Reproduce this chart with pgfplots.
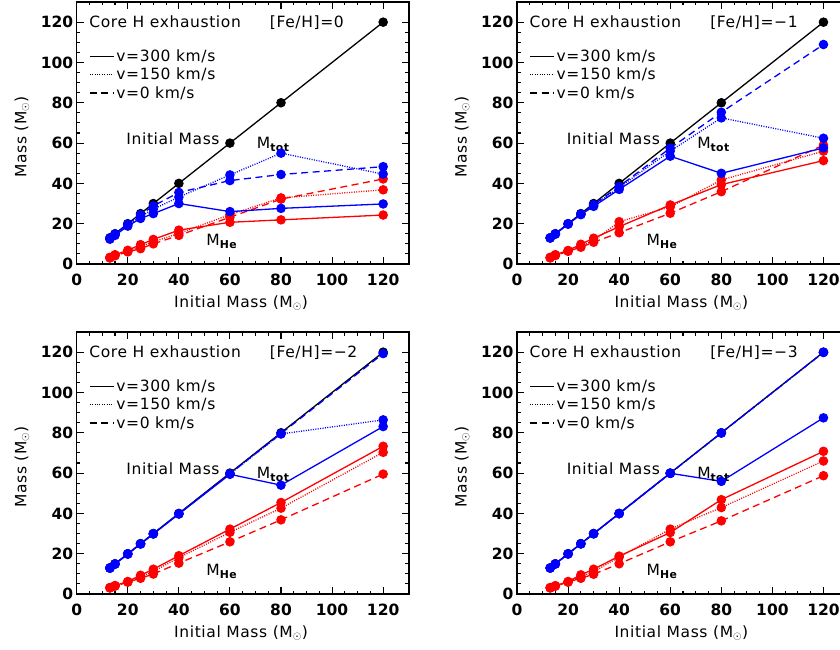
\documentclass[border=0pt]{standalone}
\usepackage{pgfplots}
\pgfplotsset{compat=1.18}
\usepackage{pgfplotstable}
\usepackage{fontspec}
\setmainfont{DejaVu Sans}[LetterSpace=4]
\newfontfamily\tkfam{DejaVu Sans}

\newcommand\lab{\fontsize{15.5}{18}\selectfont}
\newcommand\tkf{\tkfam\fontsize{15.5}{17}\selectfont\bfseries}

% m: initial mass; bs/bo/bd: total mass (v=300/150/0); rs/ro/rd: He core mass (v=300/150/0)
\pgfplotstableread{
m   bs    bo    bd     rs    ro    rd
13  12.3  12.6  12.9   3.3   3.1   3.0
15  14.2  14.6  14.9   4.6   4.3   4.1
20  18.8  19.4  19.8   6.8   6.4   6.0
25  22.6  23.6  24.5   9.6   8.6   7.6
30  25.0  27.2  28.8   12.2  11.0  10.0
40  30.0  33.2  35.5   16.8  15.2  14.2
60  26.0  44.2  41.4   20.7  24.5  23.2
80  27.6  55.0  44.4   21.9  32.8  32.2
120 29.8  44.6  48.3   24.3  36.8  42.2
}\tabA
\pgfplotstableread{
m   bs    bo    bd     rs    ro    rd
13  12.9  13.0  13.0   3.3   3.2   3.0
15  14.8  14.9  15.0   4.6   4.4   4.2
20  19.8  19.9  19.9   6.7   6.5   6.3
25  24.5  24.7  24.8   9.8   9.0   8.3
30  28.6  29.0  29.5   12.8  11.5  10.8
40  37.0  38.0  38.5   18.5  21.0  15.5
60  53.5  56.0  57.5   29.3  28.3  25.2
80  45.0  72.5  75.3   39.4  41.7  35.9
120 57.6  62.4  108.9  51.3  56.0  59.0
}\tabB
\pgfplotstableread{
m   bs    bo    bd     rs    ro    rd
13  12.8  12.9  12.9   3.2   3.1   3.0
15  14.8  14.9  14.9   4.2   4.0   3.9
20  19.8  19.9  19.9   6.2   6.0   5.9
25  24.8  24.9  24.9   9.3   8.5   7.8
30  29.8  29.9  29.9   12.3  11.2  9.9
40  39.7  39.8  39.8   19.0  18.0  15.3
60  59.4  59.6  59.7   32.2  30.6  25.9
80  54.0  79.4  79.6   45.4  42.6  36.8
120 83.1  86.4  119.3  73.3  70.3  59.5
}\tabC
\pgfplotstableread{
m   bs    bo    bd     rs    ro    rd
13  12.9  12.9  12.9   3.2   3.1   3.0
15  14.9  14.9  14.9   4.1   4.0   3.9
20  19.9  19.9  19.9   6.2   6.0   5.9
25  24.9  24.9  24.9   9.5   8.6   7.8
30  29.9  29.9  29.9   12.3  11.0  9.8
40  39.9  39.9  39.9   18.8  18.3  15.0
60  59.9  59.9  59.9   30.5  32.2  25.9
80  55.9  79.9  79.9   46.8  42.9  36.3
120 87.4  119.9 119.9  70.8  66.0  58.7
}\tabD

\pgfplotsset{
 panel/.style={
   scale only axis, width=332pt, height=262pt, anchor=south west,
   xmin=0, xmax=130, ymin=0, ymax=130,
   xtick={0,20,...,120}, ytick={0,20,...,120},
   minor x tick num=3, minor y tick num=3,
   tick align=inside, major tick length=7pt, minor tick length=3.5pt,
   every tick/.style={black, line width=1.1pt},
   axis line style={line width=1.6pt},
   /pgf/number format/assume math mode=true,
   ticklabel style={font=\tkf},
   xticklabel style={yshift=-6pt},
   xlabel={Initial Mass (M$_\odot$)}, ylabel={Mass (M$_\odot$)},
   label style={font=\lab},
   xlabel style={at={(axis description cs:0.495,-0.149)}, anchor=center},
   ylabel style={at={(axis description cs:-0.165,0.485)}, anchor=center},
   legend style={draw=none, fill=none, at={(axis description cs:0.037,0.826)},
     anchor=north west, font=\lab, inner sep=0pt, row sep=1pt, cells={anchor=west}},
   legend image code/.code={\draw[#1, line width=1.2pt] (0pt,0pt) -- (24pt,0pt);},
   clip=false,
 },
 dotst/.style={dash pattern=on 1pt off 1.4pt},
 dashst/.style={dash pattern=on 7pt off 4.5pt},
 pl/.style={line width=1.3pt, mark=*, mark size=4.1pt, mark options={solid, draw=none, fill=#1}, #1, forget plot},
}

\newcommand\drawpanel[3]{%
\begin{axis}[panel, at={(#1)}]
 \addlegendimage{black, solid}\addlegendentry{v=300 km/s}
 \addlegendimage{black, dotst}\addlegendentry{v=150 km/s}
 \addlegendimage{black, dashst}\addlegendentry{v=0 km/s}
 \addplot[pl=black] table[x=m, y=m] {#2};
 \addplot[pl=red] table[x=m, y=rs] {#2};
 \addplot[pl=red, dotst] table[x=m, y=ro] {#2};
 \addplot[pl=red, dashst] table[x=m, y=rd] {#2};
 \addplot[pl=blue] table[x=m, y=bs] {#2};
 \addplot[pl=blue, dotst] table[x=m, y=bo] {#2};
 \addplot[pl=blue, dashst] table[x=m, y=bd] {#2};
 \node[anchor=base west, font=\lab, inner sep=0pt] at (axis cs:4.9,117.5) {Core H exhaustion};
 \node[anchor=base west, font=\lab, inner sep=0pt] at (axis cs:75.6,117.5) {[Fe/H]=#3};
 \node[anchor=east, font=\lab, inner sep=0pt] at (axis cs:56,62.4) {Initial Mass};
 \node[anchor=base west, font=\lab, inner sep=0pt] at (axis cs:70.5,57.1) {M\textsubscript{\bfseries tot}};
 \node[anchor=base west, font=\lab, inner sep=0pt] at (axis cs:50.7,9.1) {M\textsubscript{\bfseries He}};
\end{axis}}

\begin{document}
\begin{tikzpicture}
\drawpanel{76.7pt,385pt}{\tabA}{0}
\drawpanel{517pt,385pt}{\tabB}{−1}
\drawpanel{76.7pt,55pt}{\tabC}{−2}
\drawpanel{517pt,55pt}{\tabD}{−3}
\pgfresetboundingbox
\path[use as bounding box] (0pt,0pt) rectangle (840pt,649pt);
\end{tikzpicture}
\end{document}
